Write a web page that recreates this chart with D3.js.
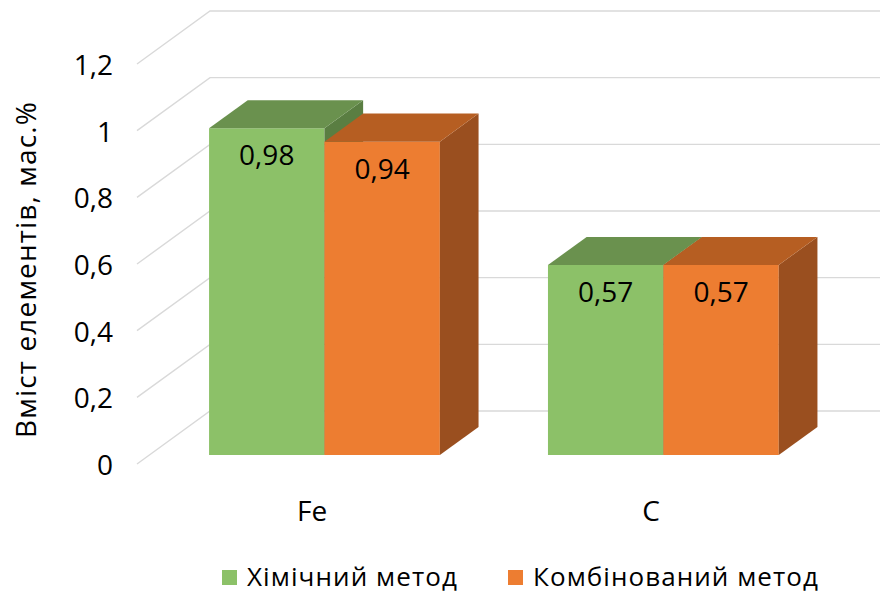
<!DOCTYPE html>
<html>
<head>
<meta charset="utf-8">
<script src="https://cdn.jsdelivr.net/npm/d3@7"></script>
<style>
  html, body { margin: 0; padding: 0; background: #ffffff; }
  svg { display: block; font-family: "Open Sans", "Noto Sans", sans-serif; }
</style>
</head>
<body>
<svg id="chart" width="880" height="594"></svg>
<script>
// Element content, wt.%
const categories = ["Fe", "C"];
const seriesNames = ["Хімічний метод", "Комбінований метод"];
const chemValues = [0.98, 0.57];
const combValues = [0.94, 0.57];
const yTicks = [0, 0.2, 0.4, 0.6, 0.8, 1, 1.2];
const yTitle = "Вміст елементів, мас.%";

const series = [
  { name: seriesNames[0], values: chemValues,
    front: "#8cc168", top: "#6a914e", side: "#5a7e42", legend: "#8cc168" },
  { name: seriesNames[1], values: combValues,
    front: "#ed7d31", top: "#b65e22", side: "#9a4f1f", legend: "#ed7d31" }
];

const W = 880, H = 594;
const svg = d3.select("#chart");

const locale = d3.formatLocale({ decimal: ",", thousands: " ", grouping: [3], currency: ["", ""] });
const tickFmt = locale.format("~g");
const labelFmt = locale.format(".2f");

// front plane scales (depth = 0)
const x = d3.scaleBand().domain(categories).range([137, 826])
  .paddingInner(0.319).paddingOuter(0.176);
const xs = d3.scaleBand().domain(d3.range(series.length)).range([0, x.bandwidth()]);
const y = d3.scaleLinear().domain([0, 1.2]).range([464, 64]);

// oblique depth: full depth of the plot box in pixels
const DX = 73, DY = -53;
const proj = (px, v, z) => [px + DX * z, y(v) + DY * z];
const zFront = 0.17, zBack = 0.70;

// gridlines: side wall diagonal + back wall horizontal
const grid = svg.append("g").attr("fill", "none").attr("stroke", "#d9d9d9").attr("stroke-width", 1.4);
yTicks.forEach(t => {
  const a = proj(x.range()[0], t, 0);
  const b = proj(x.range()[0], t, 1);
  const c = proj(x.range()[1], t, 1);
  grid.append("path").attr("d", d3.line()([a, b, [Math.max(c[0], W + 5), c[1]]]));
});

// y tick labels
svg.append("g").selectAll("text").data(yTicks).join("text")
  .attr("x", 113).attr("y", d => y(d))
  .attr("text-anchor", "end").attr("dominant-baseline", "central")
  .attr("font-size", 28).attr("fill", "#000")
  .text(d => tickFmt(d));

// axis title
svg.append("text")
  .attr("transform", `translate(25,${(y(0) + y(1.2)) / 2 + 6}) rotate(-90)`)
  .attr("text-anchor", "middle").attr("dominant-baseline", "central")
  .attr("font-size", 28).attr("fill", "#000")
  .attr("textLength", 336).attr("lengthAdjust", "spacing")
  .text(yTitle);

// 3D bars
const bars = svg.append("g");
categories.forEach((cat, ci) => {
  series.forEach((s, si) => {
    const v = s.values[ci];
    const x0 = x(cat) + xs(si), x1 = x0 + xs.bandwidth();
    const g = bars.append("g");
    const poly = pts => d3.line()(pts) + "Z";
    // front face
    g.append("path").attr("fill", s.front)
      .attr("d", poly([proj(x0, 0, zFront), proj(x1, 0, zFront), proj(x1, v, zFront), proj(x0, v, zFront)]));
    // right side face
    g.append("path").attr("fill", s.side)
      .attr("d", poly([proj(x1, 0, zFront), proj(x1, 0, zBack), proj(x1, v, zBack), proj(x1, v, zFront)]));
    // top face
    g.append("path").attr("fill", s.top)
      .attr("d", poly([proj(x0, v, zFront), proj(x1, v, zFront), proj(x1, v, zBack), proj(x0, v, zBack)]));
    // value label
    const [lx, ly] = proj((x0 + x1) / 2, v, zFront);
    g.append("text").attr("x", lx).attr("y", ly + 26)
      .attr("text-anchor", "middle").attr("dominant-baseline", "central")
      .attr("font-size", 28).attr("fill", "#000")
      .text(labelFmt(v));
  });
});

// category labels
svg.append("g").selectAll("text").data(categories).join("text")
  .attr("x", d => x(d) + x.bandwidth() / 2).attr("y", 510)
  .attr("text-anchor", "middle").attr("dominant-baseline", "central")
  .attr("font-size", 28).attr("fill", "#000")
  .text(d => d);

// legend
const legendPos = [222, 508];
const legendLen = [210, 285];
const lg = svg.append("g");
series.forEach((s, i) => {
  lg.append("rect").attr("x", legendPos[i]).attr("y", 570).attr("width", 15).attr("height", 15).attr("fill", s.legend);
  lg.append("text").attr("x", legendPos[i] + 25).attr("y", 586)
    .attr("font-size", 26).attr("fill", "#000")
    .attr("textLength", legendLen[i]).attr("lengthAdjust", "spacing")
    .text(s.name);
});
</script>
</body>
</html>
